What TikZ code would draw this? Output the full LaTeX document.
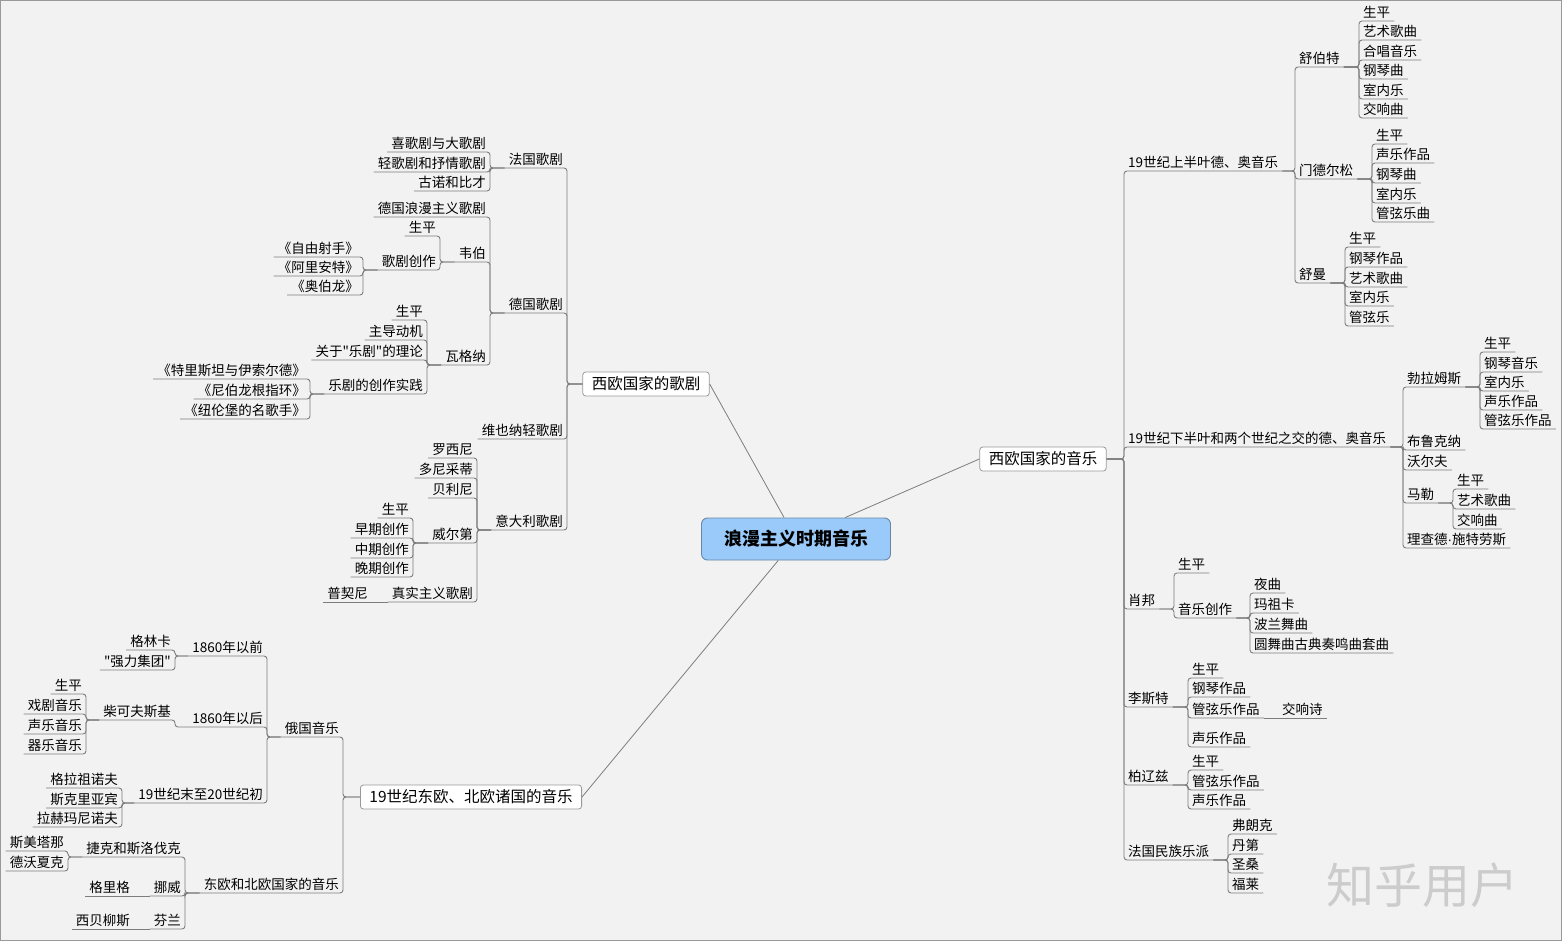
\documentclass[tikz,border=0pt]{standalone}
\usepackage{fontspec}
\newfontfamily\cjk{Noto Sans CJK SC}
\newfontfamily\latinfont{Liberation Sans}
\definecolor{rootblue}{RGB}{153,202,250}
\definecolor{rootline}{RGB}{105,135,165}
\definecolor{bg}{RGB}{242,242,242}
\definecolor{linegray}{RGB}{125,125,125}

\begin{document}
\begin{tikzpicture}[
    x=1pt,y=-1pt,font=\cjk,
    link/.style={draw=linegray,line width=.9pt,rounded corners=3pt},
    lkl/.style={link,to path={(\tikztostart) -| (\tikztotarget.south east) -- (\tikztotarget.south west)}},
    lkr/.style={link,to path={(\tikztostart) -| (\tikztotarget.south west) -- (\tikztotarget.south east)}},
    spoke/.style={draw=linegray,line width=.8pt},
    leaf/.style={inner xsep=4pt,inner ysep=1pt,text height=11pt,text depth=2.5pt,font=\cjk\fontsize{13.5}{16}\selectfont},
    lf/.style={leaf,anchor=south east},
    rt/.style={leaf,anchor=south west},
    topic/.style={draw=gray!80,fill=white,rounded corners=3pt,line width=.8pt,minimum height=24pt,inner xsep=9pt,font=\cjk\fontsize{15.5}{18}\selectfont},
    root/.style={draw=rootline,fill=rootblue,rounded corners=6pt,line width=.9pt,minimum width=189pt,minimum height=42pt,font=\cjk\bfseries\fontsize{18}{20}\selectfont},
    ]
    \useasboundingbox (0,0) rectangle (1562,941);
    \fill[bg] (0,0) rectangle (1562,941);
    \draw[gray!80,line width=1pt] (0.5,0.5) rectangle (1561.5,940.5);

    \node[root] (root) at (796,539) {浪漫主义时期音乐};
    \node[topic] (ope) at (646,384) {西欧国家的歌剧};
    \node[topic] (est) at (471,797) {19世纪东欧、北欧诸国的音乐};
    \node[topic] (mus) at (1043,459) {西欧国家的音乐};
    \path (root) edge[spoke] (ope.east)
        edge[spoke] (est.east)
        edge[spoke] (mus.west);

    % opera in western europe
    \node[lf] (fr) at (567,168) {法国歌剧};
    \node[lf] (de) at (567,313) {德国歌剧};
    \node[lf] (wien) at (567,439) {维也纳轻歌剧};
    \node[lf] (it) at (567,530) {意大利歌剧};
    \node[lf] (fr1) at (490,152) {喜歌剧与大歌剧};
    \node[lf] (fr2) at (490,172) {轻歌剧和抒情歌剧};
    \node[lf] (fr3) at (490,191) {古诺和比才};
    \node[lf] (de1) at (490,217) {德国浪漫主义歌剧};
    \node[lf] (wb) at (490,262) {韦伯};
    \node[lf] (wg) at (490,365) {瓦格纳};
    \node[lf] (wb1) at (440,236) {生平};
    \node[lf] (wb2) at (440,270) {歌剧创作};
    \node[lf] (wb21) at (363,257) {《自由射手》};
    \node[lf] (wb22) at (363,276) {《阿里安特》};
    \node[lf] (wb23) at (363,295) {《奥伯龙》};
    \node[lf] (wg1) at (427,320) {生平};
    \node[lf] (wg2) at (427,340) {主导动机};
    \node[lf] (wg3) at (427,360) {关于"乐剧"的理论};
    \node[lf] (wg4) at (427,394) {乐剧的创作实践};
    \node[lf] (wg41) at (310,379) {《特里斯坦与伊索尔德》};
    \node[lf] (wg42) at (310,399) {《尼伯龙根指环》};
    \node[lf] (wg43) at (310,419) {《纽伦堡的名歌手》};
    \node[lf] (it1) at (477,458) {罗西尼};
    \node[lf] (it2) at (477,478) {多尼采蒂};
    \node[lf] (it3) at (477,498) {贝利尼};
    \node[lf] (vd) at (477,543) {威尔第};
    \node[lf] (vr) at (477,602) {真实主义歌剧};
    \node[lf] (vd1) at (413,518) {生平};
    \node[lf] (vd2) at (413,538) {早期创作};
    \node[lf] (vd3) at (413,558) {中期创作};
    \node[lf] (vd4) at (413,577) {晚期创作};
    \node[lf] (pc) at (372,602) {普契尼};

    \path (ope.west) edge[lkl] (fr) edge[lkl] (de) edge[lkl] (wien) edge[lkl] (it);
    \path (fr.south west) edge[lkl] (fr1) edge[lkl] (fr2) edge[lkl] (fr3);
    \path (de.south west) edge[lkl] (de1) edge[lkl] (wb) edge[lkl] (wg);
    \path (wb.south west) edge[lkl] (wb1) edge[lkl] (wb2);
    \path (wb2.south west) edge[lkl] (wb21) edge[lkl] (wb22) edge[lkl] (wb23);
    \path (wg.south west) edge[lkl] (wg1) edge[lkl] (wg2) edge[lkl] (wg3) edge[lkl] (wg4);
    \path (wg4.south west) edge[lkl] (wg41) edge[lkl] (wg42) edge[lkl] (wg43);
    \path (it.south west) edge[lkl] (it1) edge[lkl] (it2) edge[lkl] (it3)
        edge[lkl] (vd) edge[lkl] (vr);
    \path (vd.south west) edge[lkl] (vd1) edge[lkl] (vd2) edge[lkl] (vd3) edge[lkl] (vd4);
    \path (vr.south west) edge[link] (pc.south west);

    % eastern and northern europe
    \node[lf] (ru) at (343,737) {俄国音乐};
    \node[lf] (ne) at (343,893) {东欧和北欧国家的音乐};
    \node[lf] (ru1) at (267,656) {1860年以前};
    \node[lf] (ru2) at (267,727) {1860年以后};
    \node[lf] (ru3) at (267,803) {19世纪末至20世纪初};
    \node[lf] (gl) at (175,650) {格林卡};
    \node[lf] (ql) at (175,670) {"强力集团"};
    \node[lf] (ck) at (175,720) {柴可夫斯基};
    \node[lf] (ck1) at (86,694) {生平};
    \node[lf] (ck2) at (86,714) {戏剧音乐};
    \node[lf] (ck3) at (86,734) {声乐音乐};
    \node[lf] (ck4) at (86,754) {器乐音乐};
    \node[lf] (gz) at (122,788) {格拉祖诺夫};
    \node[lf] (sk) at (122,808) {斯克里亚宾};
    \node[lf] (lh) at (122,827) {拉赫玛尼诺夫};
    \node[lf] (cz) at (185,857) {捷克和斯洛伐克};
    \node[lf] (nw) at (185,896) {挪威};
    \node[lf] (fi) at (185,929) {芬兰};
    \node[lf] (cz1) at (68,851) {斯美塔那};
    \node[lf] (cz2) at (68,871) {德沃夏克};
    \node[lf] (gg) at (134,896) {格里格};
    \node[lf] (xb) at (134,929) {西贝柳斯};

    \path (est.west) edge[lkl] (ru) edge[lkl] (ne);
    \path (ru.south west) edge[lkl] (ru1) edge[lkl] (ru2) edge[lkl] (ru3);
    \path (ru1.south west) edge[lkl] (gl) edge[lkl] (ql);
    \path (ru2.south west) edge[lkl] (ck);
    \path (ck.south west) edge[lkl] (ck1) edge[lkl] (ck2) edge[lkl] (ck3) edge[lkl] (ck4);
    \path (ru3.south west) edge[lkl] (gz) edge[lkl] (sk) edge[lkl] (lh);
    \path (ne.south west) edge[lkl] (cz) edge[lkl] (nw) edge[lkl] (fi);
    \path (cz.south west) edge[lkl] (cz1) edge[lkl] (cz2);
    \path (nw.south west) edge[link] (gg.south west);
    \path (fi.south west) edge[link] (xb.south west);

    % music in western europe
    \node[rt] (g1) at (1124,171) {19世纪上半叶德、奥音乐};
    \node[rt] (g2) at (1124,447) {19世纪下半叶和两个世纪之交的德、奥音乐};
    \node[rt] (cp) at (1124,609) {肖邦};
    \node[rt] (ls) at (1124,707) {李斯特};
    \node[rt] (bl) at (1124,785) {柏辽兹};
    \node[rt] (fn) at (1124,860) {法国民族乐派};

    \node[rt] (sb) at (1295,67) {舒伯特};
    \node[rt] (md) at (1295,179) {门德尔松};
    \node[rt] (sm) at (1295,283) {舒曼};
    \node[rt] (sb1) at (1359,21) {生平};
    \node[rt] (sb2) at (1359,40) {艺术歌曲};
    \node[rt] (sb3) at (1359,60) {合唱音乐};
    \node[rt] (sb4) at (1359,79) {钢琴曲};
    \node[rt] (sb5) at (1359,99) {室内乐};
    \node[rt] (sb6) at (1359,118) {交响曲};
    \node[rt] (md1) at (1372,144) {生平};
    \node[rt] (md2) at (1372,163) {声乐作品};
    \node[rt] (md3) at (1372,183) {钢琴曲};
    \node[rt] (md4) at (1372,203) {室内乐};
    \node[rt] (md5) at (1372,222) {管弦乐曲};
    \node[rt] (sm1) at (1345,247) {生平};
    \node[rt] (sm2) at (1345,267) {钢琴作品};
    \node[rt] (sm3) at (1345,287) {艺术歌曲};
    \node[rt] (sm4) at (1345,306) {室内乐};
    \node[rt] (sm5) at (1345,326) {管弦乐};

    \node[rt] (bm) at (1403,387) {勃拉姆斯};
    \node[rt] (br) at (1403,450) {布鲁克纳};
    \node[rt] (wf) at (1403,470) {沃尔夫};
    \node[rt] (ml) at (1403,503) {马勒};
    \node[rt] (rs) at (1403,548) {理查德{\latinfont\fontsize{13.5}{16}\selectfont ·}施特劳斯};
    \node[rt] (bm1) at (1480,352) {生平};
    \node[rt] (bm2) at (1480,372) {钢琴音乐};
    \node[rt] (bm3) at (1480,391) {室内乐};
    \node[rt] (bm4) at (1480,410) {声乐作品};
    \node[rt] (bm5) at (1480,429) {管弦乐作品};
    \node[rt] (ml1) at (1453,489) {生平};
    \node[rt] (ml2) at (1453,509) {艺术歌曲};
    \node[rt] (ml3) at (1453,529) {交响曲};

    \node[rt] (cp1) at (1174,573) {生平};
    \node[rt] (cp2) at (1174,618) {音乐创作};
    \node[rt] (cp21) at (1250,593) {夜曲};
    \node[rt] (cp22) at (1250,613) {玛祖卡};
    \node[rt] (cp23) at (1250,633) {波兰舞曲};
    \node[rt] (cp24) at (1250,653) {圆舞曲古典奏鸣曲套曲};
    \node[rt] (ls1) at (1188,678) {生平};
    \node[rt] (ls2) at (1188,697) {钢琴作品};
    \node[rt] (ls3) at (1188,718) {管弦乐作品};
    \node[rt] (ls4) at (1188,747) {声乐作品};
    \node[rt] (sx) at (1278,718) {交响诗};
    \node[rt] (bl1) at (1188,770) {生平};
    \node[rt] (bl2) at (1188,790) {管弦乐作品};
    \node[rt] (bl3) at (1188,809) {声乐作品};
    \node[rt] (fn1) at (1228,834) {弗朗克};
    \node[rt] (fn2) at (1228,854) {丹第};
    \node[rt] (fn3) at (1228,873) {圣桑};
    \node[rt] (fn4) at (1228,893) {福莱};

    \path (mus.east) edge[lkr] (g1) edge[lkr] (g2) edge[lkr] (cp)
        edge[lkr] (ls) edge[lkr] (bl) edge[lkr] (fn);
    \path (g1.south east) edge[lkr] (sb) edge[lkr] (md) edge[lkr] (sm);
    \path (sb.south east) edge[lkr] (sb1) edge[lkr] (sb2) edge[lkr] (sb3)
        edge[lkr] (sb4) edge[lkr] (sb5) edge[lkr] (sb6);
    \path (md.south east) edge[lkr] (md1) edge[lkr] (md2) edge[lkr] (md3)
        edge[lkr] (md4) edge[lkr] (md5);
    \path (sm.south east) edge[lkr] (sm1) edge[lkr] (sm2) edge[lkr] (sm3)
        edge[lkr] (sm4) edge[lkr] (sm5);
    \path (g2.south east) edge[lkr] (bm) edge[lkr] (br) edge[lkr] (wf)
        edge[lkr] (ml) edge[lkr] (rs);
    \path (bm.south east) edge[lkr] (bm1) edge[lkr] (bm2) edge[lkr] (bm3)
        edge[lkr] (bm4) edge[lkr] (bm5);
    \path (ml.south east) edge[lkr] (ml1) edge[lkr] (ml2) edge[lkr] (ml3);
    \path (cp.south east) edge[lkr] (cp1) edge[lkr] (cp2);
    \path (cp2.south east) edge[lkr] (cp21) edge[lkr] (cp22) edge[lkr] (cp23) edge[lkr] (cp24);
    \path (ls.south east) edge[lkr] (ls1) edge[lkr] (ls2) edge[lkr] (ls3) edge[lkr] (ls4);
    \path (ls3.south east) edge[link] (sx.south east);
    \path (bl.south east) edge[lkr] (bl1) edge[lkr] (bl2) edge[lkr] (bl3);
    \path (fn.south east) edge[lkr] (fn1) edge[lkr] (fn2) edge[lkr] (fn3) edge[lkr] (fn4);

    \node[text=gray!40,font=\cjk\fontsize{48}{52}\selectfont] (wm) at (1422,885) {知乎用户};
\end{tikzpicture}
\end{document}
